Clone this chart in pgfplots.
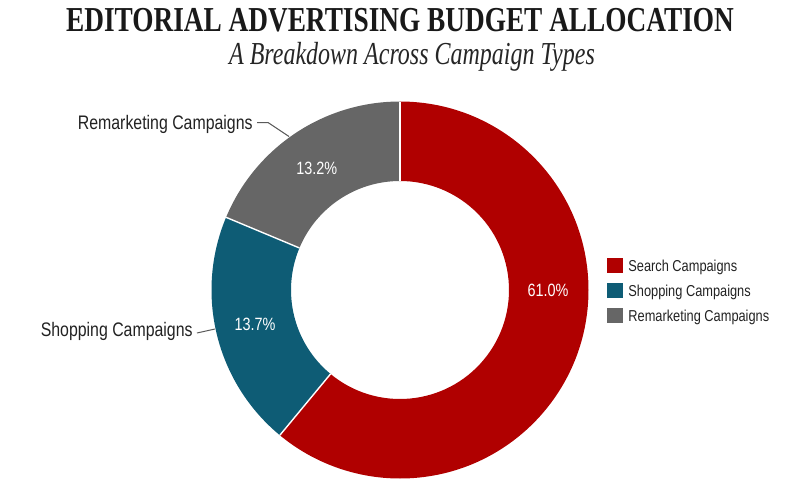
\documentclass[border=0pt]{standalone}
\usepackage{pgfplots}
\pgfplotsset{compat=1.18}
\usepackage{fontspec}
\setmainfont{Liberation Sans}
\newfontfamily\titlefont[FakeStretch=0.78]{Liberation Serif}
\newfontfamily\subfont[FakeStretch=0.75]{Liberation Serif}
\newfontfamily\labelfont[FakeStretch=0.81]{Liberation Sans}
\definecolor{cRed}{RGB}{176,0,0}
\definecolor{cTeal}{RGB}{14,92,117}
\definecolor{cGray}{RGB}{102,102,102}
\definecolor{cText}{RGB}{34,34,34}
\definecolor{cLine}{RGB}{90,90,90}

% shares of the ring (percent of the full circle)
\def\vSearch{61.0}
\def\vShopping{20.3}
\def\vRemarketing{18.7}
\pgfmathsetmacro\aA{90}
\pgfmathsetmacro\aB{\aA-\vSearch*3.6}
\pgfmathsetmacro\aC{\aB-\vShopping*3.6}
\pgfmathsetmacro\aD{\aC-\vRemarketing*3.6}
\def\cx{400}\def\cy{210}
\def\Ro{94.25pt}\def\Ri{54.5pt}

\begin{document}
\begin{tikzpicture}
\useasboundingbox (0,0) rectangle (400pt,250pt);
\begin{axis}[
  scale only axis, width=400pt, height=250pt,
  xmin=0, xmax=800, ymin=0, ymax=500,
  hide axis, clip=false,
]
% ring slices
\fill[cRed] ([shift={(\aA:\Ro)}]axis cs:\cx,\cy) arc[start angle=\aA, end angle=\aB, radius=\Ro]
  -- ([shift={(\aB:\Ri)}]axis cs:\cx,\cy) arc[start angle=\aB, end angle=\aA, radius=\Ri] -- cycle;
\fill[cTeal] ([shift={(\aB:\Ro)}]axis cs:\cx,\cy) arc[start angle=\aB, end angle=\aC, radius=\Ro]
  -- ([shift={(\aC:\Ri)}]axis cs:\cx,\cy) arc[start angle=\aC, end angle=\aB, radius=\Ri] -- cycle;
\fill[cGray] ([shift={(\aC:\Ro)}]axis cs:\cx,\cy) arc[start angle=\aC, end angle=\aD, radius=\Ro]
  -- ([shift={(\aD:\Ri)}]axis cs:\cx,\cy) arc[start angle=\aD, end angle=\aC, radius=\Ri] -- cycle;
% separators
\draw[white, line width=0.7pt] ([shift={(\aA:\Ri)}]axis cs:\cx,\cy) -- ([shift={(\aA:\Ro)}]axis cs:\cx,\cy);
\draw[white, line width=0.7pt] ([shift={(\aB:\Ri)}]axis cs:\cx,\cy) -- ([shift={(\aB:\Ro)}]axis cs:\cx,\cy);
\draw[white, line width=0.7pt] ([shift={(\aC:\Ri)}]axis cs:\cx,\cy) -- ([shift={(\aC:\Ro)}]axis cs:\cx,\cy);

% value labels
\node[anchor=base, text=white, font=\labelfont\fontsize{8.9}{10}\selectfont] at (axis cs:548,204) {61.0\%};
\node[anchor=base, text=white, font=\labelfont\fontsize{8.9}{10}\selectfont] at (axis cs:255,169.3) {13.7\%};
\node[anchor=base, text=white, font=\labelfont\fontsize{8.9}{10}\selectfont] at (axis cs:316.7,326) {13.2\%};

% callouts
\draw[cLine, line width=0.5pt] (axis cs:257,377.5) -- (axis cs:268,377.5) -- (axis cs:289,363.5);
\node[anchor=base east, inner sep=0pt, text=cText, font=\labelfont\fontsize{9.8}{11}\selectfont] at (axis cs:253,370.7) {Remarketing Campaigns};
\draw[cLine, line width=0.5pt] (axis cs:197,167) -- (axis cs:215,171);
\node[anchor=base east, inner sep=0pt, text=cText, font=\labelfont\fontsize{9.8}{11}\selectfont] at (axis cs:193,164) {Shopping Campaigns};

% legend
\fill[cRed]  (axis cs:607,242) rectangle (axis cs:623,227);
\fill[cTeal] (axis cs:607,217) rectangle (axis cs:623,202);
\fill[cGray] (axis cs:607,192) rectangle (axis cs:623,177);
\node[anchor=base west, inner sep=0pt, text=cText, font=\labelfont\fontsize{7.9}{9}\selectfont] at (axis cs:628,228.3) {Search Campaigns};
\node[anchor=base west, inner sep=0pt, text=cText, font=\labelfont\fontsize{7.9}{9}\selectfont] at (axis cs:628,203.3) {Shopping Campaigns};
\node[anchor=base west, inner sep=0pt, text=cText, font=\labelfont\fontsize{7.9}{9}\selectfont] at (axis cs:628,178.3) {Remarketing Campaigns};

% titles
\node[anchor=base, inner sep=0pt, text=black!90, font=\titlefont\bfseries\fontsize{17.5}{20}\selectfont] at (axis cs:400,469) {EDITORIAL ADVERTISING BUDGET ALLOCATION};
\node[anchor=base, inner sep=0pt, text=black!85, font=\subfont\itshape\fontsize{16}{19}\selectfont] at (axis cs:412,436) {A Breakdown Across Campaign Types};
\end{axis}
\end{tikzpicture}
\end{document}
